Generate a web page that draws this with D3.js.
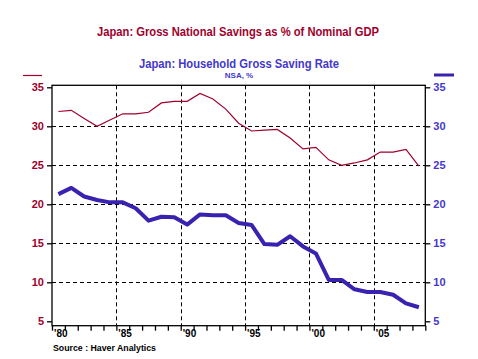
<!DOCTYPE html>
<html><head><meta charset="utf-8">
<script src="https://cdn.jsdelivr.net/npm/d3@7"></script>
<style>body{margin:0;background:#fff}svg{display:block}text{font-family:"Liberation Sans",Arial,sans-serif;font-weight:bold}</style>
</head><body><div id="chart"></div>
<script>
const years = [1980,1981,1982,1983,1984,1985,1986,1987,1988,1989,1990,1991,1992,1993,1994,1995,1996,1997,1998,1999,2000,2001,2002,2003,2004,2005,2006,2007,2008];
const nationalSavings = [31.9,32.05,31.0,30.0,30.8,31.6,31.6,31.8,33.0,33.2,33.2,34.2,33.5,32.2,30.4,29.4,29.5,29.6,28.5,27.1,27.3,25.7,25.0,25.3,25.7,26.7,26.7,27.05,24.9];
const householdSaving = [21.3,22.1,21.0,20.55,20.25,20.25,19.5,17.9,18.4,18.35,17.4,18.7,18.6,18.6,17.6,17.35,14.9,14.8,15.9,14.6,13.7,10.3,10.3,9.1,8.75,8.75,8.4,7.3,6.8];
const yTicks = [5,10,15,20,25,30,35];
const xMajor = [1980,1985,1990,1995,2000,2005];
const xLabels = ["'80","'85","'90","'95","'00","'05"];
const titleText = "Japan: Gross National Savings as % of Nominal GDP";
const subTitle = "Japan: Household Gross Saving Rate";
const unitText = "NSA, %";
const sourceText = "Source : Haver Analytics";

(function(){
const W=478,H=359;
const red="#A0002C", blue="#3A22B0", blueText="#4438CC";
const svg=d3.select("#chart").append("svg").attr("width",W).attr("height",H);
const x=d3.scaleLinear().domain([1980,2009]).range([52,425.3]);
const y=d3.scaleLinear().domain([5,35]).range([321.3,87.3]);
const pTop=85.3,pBottom=325.7,pLeft=52,pRight=425.3;

// grid
const g=svg.append("g");
g.selectAll("line.hg").data([10,15,20,25,30]).enter().append("line")
 .attr("x1",pLeft).attr("x2",pRight).attr("y1",d=>Math.round(y(d))+0.5).attr("y2",d=>Math.round(y(d))+0.5)
 .attr("stroke","#000").attr("stroke-dasharray","4,3");
g.selectAll("line.vg").data(xMajor.slice(1)).enter().append("line")
 .attr("y1",pTop).attr("y2",pBottom).attr("x1",d=>Math.round(x(d))+0.5).attr("x2",d=>Math.round(x(d))+0.5)
 .attr("stroke","#000").attr("stroke-dasharray","4,3");

// frame
svg.append("rect").attr("x",pLeft).attr("y",pTop).attr("width",pRight-pLeft).attr("height",pBottom-pTop)
 .attr("fill","none").attr("stroke","#000").attr("stroke-width",1.3);

// left axis
const yl=d3.axisLeft(y).tickValues(yTicks).tickSize(5).tickPadding(3);
const gl=svg.append("g").attr("transform",`translate(${pLeft},0)`).call(yl);
gl.select(".domain").remove();
gl.selectAll("line").attr("stroke","#000").attr("stroke-width",1.3);
gl.selectAll("text").attr("fill",red).attr("font-size",11).style("font-family","'Liberation Sans',Arial,sans-serif");
// right axis
const yr=d3.axisRight(y).tickValues(yTicks).tickSize(5).tickPadding(3);
const gr=svg.append("g").attr("transform",`translate(${pRight},0)`).call(yr);
gr.select(".domain").remove();
gr.selectAll("line").attr("stroke","#000").attr("stroke-width",1.3);
gr.selectAll("text").attr("fill",blueText).attr("font-size",11).style("font-family","'Liberation Sans',Arial,sans-serif");
// bottom axis
const xb=d3.axisBottom(x).tickValues(d3.range(1980,2010)).tickSize(5).tickFormat("");
const gb=svg.append("g").attr("transform",`translate(0,${pBottom})`).call(xb);
gb.select(".domain").remove();
gb.selectAll("line").attr("stroke","#000").attr("stroke-width",1.3);
svg.selectAll("text.xl").data(xMajor).enter().append("text").attr("class","xl")
 .attr("x",d=>x(d)+2).attr("y",337).attr("font-size",10).attr("fill","#000")
 .text((d,i)=>xLabels[i]);

// lines
const line=arr=>d3.line().x((d,i)=>x(years[i]+0.5)).y(d=>y(d))(arr);
svg.append("path").attr("d",line(nationalSavings)).attr("fill","none").attr("stroke",red).attr("stroke-width",1.2);
svg.append("path").attr("d",line(householdSaving)).attr("fill","none").attr("stroke",blue).attr("stroke-width",4).attr("stroke-linejoin","round");

// titles
svg.append("text").attr("x",238).attr("y",35.5).attr("text-anchor","middle").attr("font-size",12).attr("fill",red)
 .attr("textLength",282).attr("lengthAdjust","spacingAndGlyphs").text(titleText);
svg.append("text").attr("x",239).attr("y",68).attr("text-anchor","middle").attr("font-size",12).attr("fill",blueText)
 .attr("textLength",200).attr("lengthAdjust","spacingAndGlyphs").text(subTitle);
svg.append("text").attr("x",239).attr("y",78).attr("text-anchor","middle").attr("font-size",8).attr("fill",blueText).text(unitText);
// legend marks
svg.append("line").attr("x1",23).attr("x2",42).attr("y1",75.5).attr("y2",75.5).attr("stroke",red).attr("stroke-width",1.2);
svg.append("line").attr("x1",434).attr("x2",454).attr("y1",75).attr("y2",75).attr("stroke",blue).attr("stroke-width",3);
// source
svg.append("text").attr("x",53).attr("y",351).attr("font-size",9).attr("fill","#000")
 .attr("textLength",103).attr("lengthAdjust","spacingAndGlyphs").text(sourceText);
})();
</script></body></html>
